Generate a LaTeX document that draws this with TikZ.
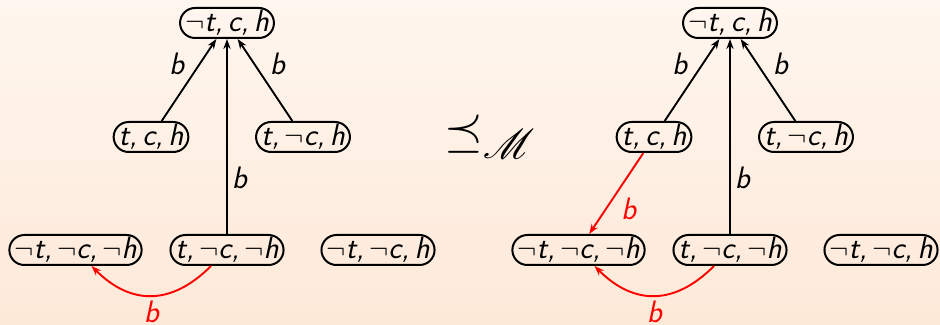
\documentclass[tikz,border=0pt]{standalone}
\usepackage{amssymb}
\usepackage{mathrsfs}
\usepackage{fontspec}
\usetikzlibrary{arrows.meta,shadings}
\definecolor{bgtop}{HTML}{FFF6EF}
\definecolor{bgbot}{HTML}{FDE9D8}
\newcommand{\nn}{$\neg$}
\newcommand{\cm}{,\kern2.5pt}
\begin{document}
\begin{tikzpicture}[x=0.5pt,y=-0.5pt,
  state/.style={draw, line width=1pt, rounded corners=7.5pt, minimum height=15pt,
    inner xsep=2.5pt, inner ysep=0pt, font=\fontsize{15.5}{17}\selectfont\sffamily\itshape},
  edge/.style={line width=0.95pt, -{Stealth[length=5pt,width=3.6pt]}},
  redge/.style={edge, red},
  lab/.style={font=\fontsize{15.5}{17}\selectfont\sffamily\itshape, inner sep=2pt}]
\shade[top color=bgtop, bottom color=bgbot] (0,0) rectangle (940,325);
\useasboundingbox (0,0) rectangle (940,325);
% left diagram
\node[state] (a1) at (227,23) {\nn t\cm c\cm h};
\node[state] (b1) at (151,137) {t\cm c\cm h};
\node[state] (c1) at (303,137) {t\cm \nn c\cm h};
\node[state] (d1) at (75.5,250) {\nn t\cm \nn c\cm \nn h};
\node[state] (e1) at (227,250) {t\cm \nn c\cm \nn h};
\node[state] (f1) at (378,250) {\nn t\cm \nn c\cm h};
\draw[edge] (b1) -- node[lab, above left] {b} (a1);
\draw[edge] (c1) -- node[lab, above right] {b} (a1);
\draw[edge] (e1) -- node[lab, right, pos=0.29] {b} (a1);
\draw[redge] (e1) to[bend left=45, looseness=1.2] node[lab, below, text=red] {b} (d1);
% relation
\node[inner sep=0pt, font=\fontsize{28}{32}\selectfont] (rel) at (490,137) {$\preceq_{\mathscr{M}}$};
% right diagram
\node[state] (a2) at (730,23) {\nn t\cm c\cm h};
\node[state] (b2) at (654,137) {t\cm c\cm h};
\node[state] (c2) at (806,137) {t\cm \nn c\cm h};
\node[state] (d2) at (578.5,250) {\nn t\cm \nn c\cm \nn h};
\node[state] (e2) at (730,250) {t\cm \nn c\cm \nn h};
\node[state] (f2) at (881,250) {\nn t\cm \nn c\cm h};
\draw[edge] (b2) -- node[lab, above left] {b} (a2);
\draw[edge] (c2) -- node[lab, above right] {b} (a2);
\draw[edge] (e2) -- node[lab, right, pos=0.29] {b} (a2);
\draw[redge] (b2) -- node[lab, below right, text=red] {b} (d2);
\draw[redge] (e2) to[bend left=45, looseness=1.2] node[lab, below, text=red] {b} (d2);
\end{tikzpicture}
\end{document}
